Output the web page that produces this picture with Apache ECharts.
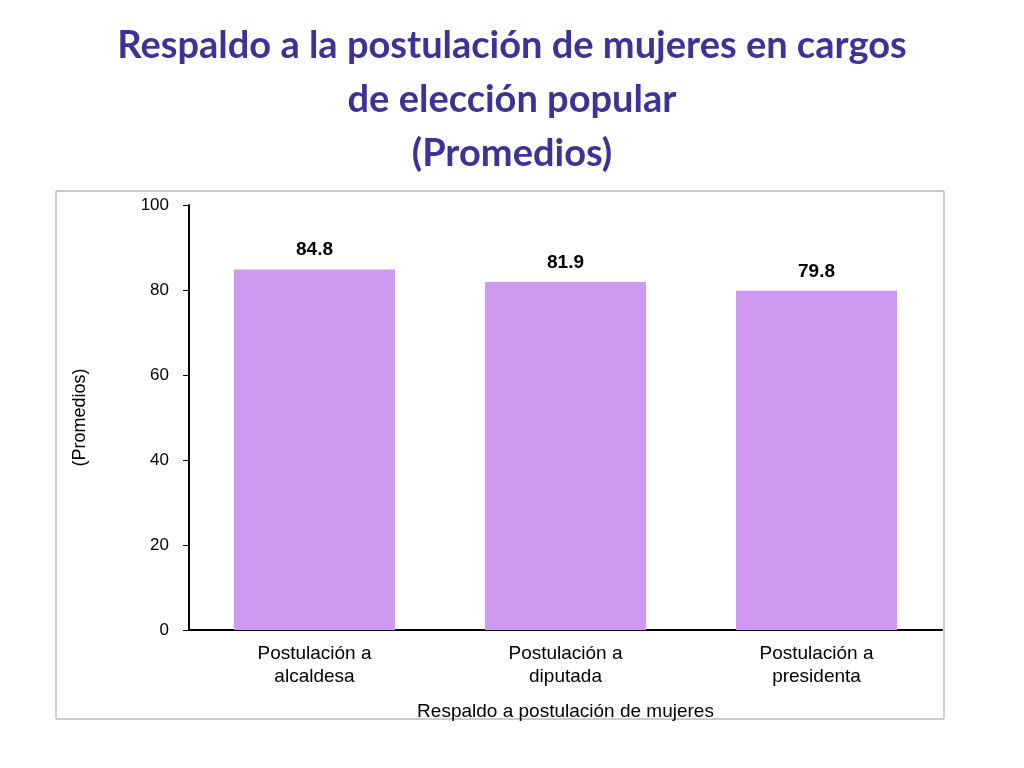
<!DOCTYPE html>
<html>
<head>
<meta charset="utf-8"/>
<script src="https://cdn.jsdelivr.net/npm/echarts@6/dist/echarts.min.js"></script>
<style>html,body{margin:0;padding:0;background:#fff}</style>
</head>
<body>
<div id="main" style="width:1024px;height:768px;"></div>
<script>
    var categories = ['Postulación a\nalcaldesa', 'Postulación a\ndiputada', 'Postulación a\npresidenta'];
    var values = [84.8, 81.9, 79.8];

    var myChart = echarts.init(document.getElementById('main'));
    var option = {
        title: {
            text: 'Respaldo a la postulación de mujeres en cargos\nde elección popular\n(Promedios)',
            left: 'center',
            top: 14,
            textStyle: {
                color: '#3d3396',
                fontFamily: 'Lato',
                fontWeight: 'bold',
                fontSize: 38,
                lineHeight: 54
            }
        },
        graphic: [{
            type: 'rect',
            shape: {x: 56, y: 191, width: 888, height: 528},
            style: {fill: 'none', stroke: '#999', lineWidth: 1}
        }],
        grid: {left: 189, right: 82, top: 205, bottom: 138},
        xAxis: {
            type: 'category',
            data: categories,
            name: 'Respaldo a postulación de mujeres',
            nameLocation: 'middle',
            nameGap: 72,
            nameTextStyle: {fontFamily: 'Liberation Sans', fontSize: 19, color: '#000'},
            axisLine: {lineStyle: {color: '#000', width: 2}},
            axisTick: {show: false},
            axisLabel: {fontFamily: 'Liberation Sans', fontSize: 19, color: '#000', margin: 12, lineHeight: 23}
        },
        yAxis: {
            type: 'value',
            min: 0, max: 100, interval: 20,
            name: '(Promedios)',
            nameLocation: 'middle',
            nameGap: 100,
            nameTextStyle: {fontFamily: 'Liberation Sans', fontSize: 18, color: '#000'},
            axisLine: {show: true, lineStyle: {color: '#000', width: 2}},
            axisTick: {show: true, length: 6, inside: false, lineStyle: {color: '#000'}},
            splitLine: {show: false},
            axisLabel: {fontFamily: 'Liberation Sans', fontSize: 17, color: '#000', margin: 20}
        },
        series: [{
            type: 'bar',
            data: values,
            barWidth: 161,
            itemStyle: {color: '#cf99f0'},
            label: {
                show: true, position: 'top', distance: 10,
                fontFamily: 'Liberation Sans', fontWeight: 'bold', fontSize: 19, color: '#000',
                formatter: function (p) { return p.value.toFixed(1); }
            }
        }]
    };
    myChart.setOption(option);
</script>
</body>
</html>
